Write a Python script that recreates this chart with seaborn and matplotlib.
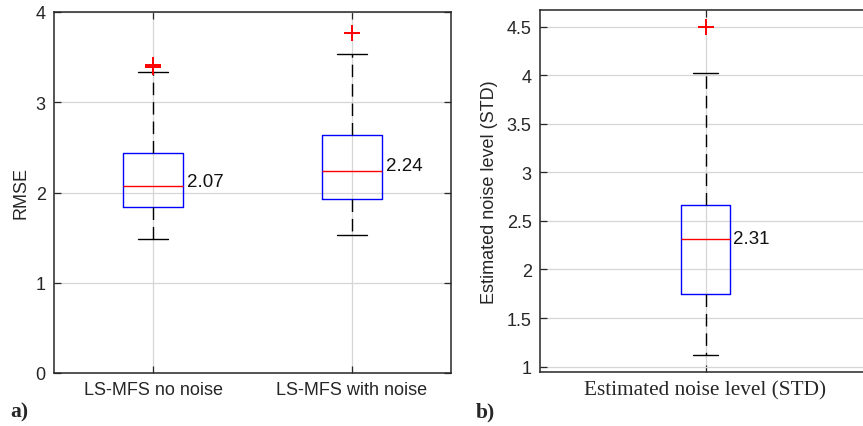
import matplotlib
matplotlib.use("Agg")
import matplotlib.pyplot as plt
import seaborn as sns
import pandas as pd

# Five-number summaries (whisker ends, quartiles, median) and outliers
methods = ["LS-MFS no noise", "LS-MFS with noise"]
rmse_low = [1.49, 1.53]
rmse_q1 = [1.84, 1.93]
rmse_median = [2.07, 2.24]
rmse_q3 = [2.44, 2.64]
rmse_high = [3.33, 3.53]
rmse_outliers = [[3.39, 3.41], [3.77]]

noise_label = "Estimated noise level (STD)"
noise_low = 1.12
noise_q1 = 1.75
noise_median = 2.31
noise_q3 = 2.66
noise_high = 4.02
noise_outliers = [4.50]

rmse_ticks = [0, 1, 2, 3, 4]
noise_ticks = [1, 1.5, 2, 2.5, 3, 3.5, 4, 4.5]

sns.set_theme(style="ticks")
plt.rcParams["font.family"] = ["Liberation Sans", "DejaVu Sans"]
plt.rcParams["axes.edgecolor"] = "#262626"
plt.rcParams["grid.color"] = "#d6d6d6"
plt.rcParams["grid.linewidth"] = 0.9

# Long-form tables built from the summaries above
box_rows = []
for m, lo, a, md, b, hi in zip(methods, rmse_low, rmse_q1, rmse_median, rmse_q3, rmse_high):
    for v in (lo, a, md, b, hi):
        box_rows.append({"method": m, "value": v})
rmse_df = pd.DataFrame(box_rows)
rmse_out_df = pd.DataFrame(
    [{"method": m, "value": v} for m, vals in zip(methods, rmse_outliers) for v in vals]
)
noise_df = pd.DataFrame({"method": noise_label,
                         "value": [noise_low, noise_q1, noise_median, noise_q3, noise_high]})
noise_out_df = pd.DataFrame({"method": noise_label, "value": noise_outliers})

fig = plt.figure(figsize=(8.63, 4.27), dpi=100)
ax1 = fig.add_axes([54 / 863, 1 - 374 / 427, 397 / 863, 361 / 427])
ax2 = fig.add_axes([540 / 863, 1 - 373 / 427, 331 / 863, 362 / 427])

box_kws = dict(
    whis=(0, 100), showfliers=False, fill=False, color="#0000ff", linewidth=1.0,
    whiskerprops=dict(color="black", linestyle=(0, (9, 5)), linewidth=1.0),
    capprops=dict(color="black", linewidth=1.0),
    medianprops=dict(color="#ff0000", linewidth=1.0),
    boxprops=dict(color="#0000ff", linewidth=1.0),
)
flier_kws = dict(jitter=False, marker="+", color="#ff0000", size=11, linewidth=1.4)


def style_axes(ax):
    ax.grid(True, zorder=0)
    ax.set_axisbelow(True)
    ax.tick_params(direction="in", top=True, right=True, length=5, width=0.9,
                   labelsize=13, pad=6, color="#262626")
    for s in ax.spines.values():
        s.set_linewidth(1.1)
        s.set_visible(True)


# Panel a: RMSE
sns.boxplot(data=rmse_df, x="method", y="value", order=methods, width=0.3, ax=ax1, **box_kws)
sns.stripplot(data=rmse_out_df, x="method", y="value", order=methods, ax=ax1, **flier_kws)
ax1.set_xlim(-0.5, 1.5)
ax1.set_ylim(0, 4)
ax1.set_yticks(rmse_ticks)
ax1.set_yticklabels([str(t) for t in rmse_ticks])
ax1.set_xlabel("")
ax1.set_ylabel("RMSE", fontsize=13, labelpad=4)
style_axes(ax1)
for i, md in enumerate(rmse_median):
    ax1.annotate(f"{md:.2f}", xy=(i + 0.15, md), xytext=(4, 5), textcoords="offset pixels",
                 ha="left", va="center", fontsize=13.5, color="#111111")

# Panel b: estimated noise level
sns.boxplot(data=noise_df, x="method", y="value", width=0.15, ax=ax2, **box_kws)
sns.stripplot(data=noise_out_df, x="method", y="value", ax=ax2, **flier_kws)
ax2.set_xlim(-0.5, 0.5)
ax2.set_ylim(0.945, 4.67)
ax2.set_yticks(noise_ticks)
ax2.set_yticklabels([f"{t:g}" for t in noise_ticks])
ax2.set_xlabel("")
ax2.set_ylabel(noise_label, fontsize=13, labelpad=6)
style_axes(ax2)
for lab in ax2.get_xticklabels():
    lab.set_fontfamily("Liberation Serif")
    lab.set_fontsize(15.3)
ax2.annotate(f"{noise_median:.2f}", xy=(0.075, noise_median), xytext=(3, 1),
             textcoords="offset pixels", ha="left", va="center", fontsize=13.5, color="#111111")

fig.text(10 / 863, 1 - 412 / 427, "a)", fontfamily="Liberation Serif", fontweight="bold",
         fontsize=15.5, va="center", ha="left")
fig.text(476 / 863, 1 - 412 / 427, "b)", fontfamily="Liberation Serif", fontweight="bold",
         fontsize=15.5, va="center", ha="left")

fig.savefig("out.png", dpi=100)
